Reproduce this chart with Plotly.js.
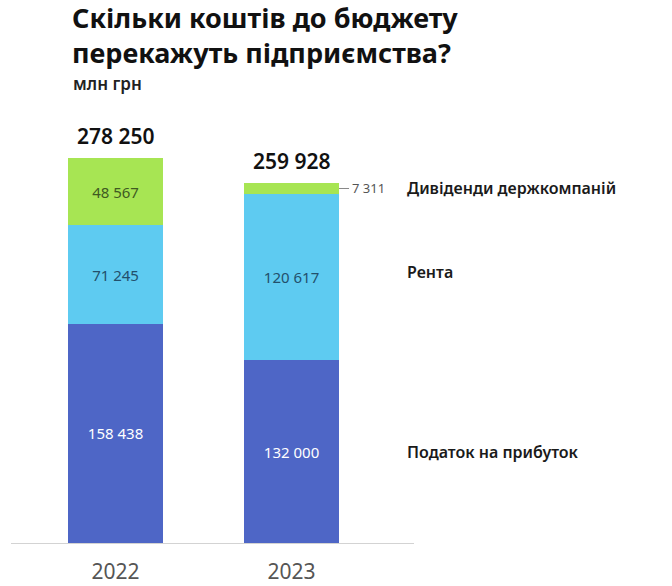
<!DOCTYPE html>
<html>
<head>
<meta charset="utf-8">
<script src="https://cdn.plot.ly/plotly-3.0.1.min.js"></script>
<style>html,body{margin:0;padding:0;background:#fff;}#chart{width:672px;height:586px;}</style>
</head>
<body>
<div id="chart"></div>
<script>
// ---- data ----
const years = ['2022', '2023'];
const profitTax = [158438, 132000];
const rent = [71245, 120617];
const dividends = [48567, 7311];
const totals = [278250, 259928];
const seriesNames = ['Податок на прибуток', 'Рента', 'Дивіденди держкомпаній'];
const titleLines = ['Скільки коштів до бюджету', 'перекажуть підприємства?'];
const unitLabel = 'млн грн';

// ---- helpers ----
const fmt = v => String(v).replace(/\B(?=(\d{3})+(?!\d))/g, ' ');
const FONT = '"Noto Sans", "Open Sans", sans-serif';
const L = 11, R = 414, T = 128, B = 543, W = 672, H = 586;
const px = x => (x - L) / (R - L);
const py = y => (B - y) / (B - T);
const BW = 0.54;
const MININ = 20000;

const colors = ['#4e66c6', '#5ecbf1', '#a7e553'];
const textColors = ['#ffffff', '#23506c', '#405a22'];
const series = [profitTax, rent, dividends];

const traces = series.map((vals, k) => ({
  type: 'bar',
  x: years,
  y: vals,
  name: seriesNames[k],
  width: BW,
  marker: {color: colors[k], line: {width: 0}},
  text: vals.map(v => v >= MININ ? fmt(v) : ''),
  textposition: 'inside',
  insidetextanchor: 'middle',
  textangle: 0,
  constraintext: 'none',
  textfont: {family: FONT, size: 15, color: textColors[k]},
  hoverinfo: 'skip',
  showlegend: false
}));

const annotations = [];
const shapes = [];

// totals above bars
years.forEach((yr, i) => {
  annotations.push({
    x: i, y: totals[i], xref: 'x', yref: 'y',
    text: fmt(totals[i]), showarrow: false,
    xanchor: 'center', yanchor: 'bottom', yshift: 6,
    font: {family: FONT, size: 21, color: '#111', weight: 600}
  });
});

// small segment labels outside with leader line
years.forEach((yr, i) => {
  series.forEach((vals, k) => {
    if (vals[i] < MININ) {
      let base = 0;
      for (let j = 0; j < k; j++) base += series[j][i];
      const yc = base + vals[i] / 2;
      shapes.push({
        type: 'line', xref: 'x', yref: 'y',
        x0: i + BW / 2, x1: i + BW / 2 + 0.057, y0: yc, y1: yc,
        line: {color: '#888', width: 1}
      });
      annotations.push({
        x: i + BW / 2 + 0.065, y: yc, xref: 'x', yref: 'y',
        text: fmt(vals[i]), showarrow: false,
        xanchor: 'left', yanchor: 'middle',
        font: {family: FONT, size: 13, color: '#555'}
      });
    }
  });
});

// series labels at the right of the last bar
const last = years.length - 1;
let acc = 0;
series.forEach((vals, k) => {
  const yc = acc + vals[last] / 2;
  acc += vals[last];
  annotations.push({
    x: 1.645, y: yc, xref: 'x', yref: 'y',
    text: seriesNames[k], showarrow: false,
    xanchor: 'left', yanchor: 'middle', yshift: k === 1 ? 5 : 0,
    font: {family: FONT, size: 16, color: '#1a1a1a', weight: 600}
  });
});

// title (one wrapped text) + unit
annotations.push({
  x: px(70), y: py(35.5), xref: 'paper', yref: 'paper',
  text: titleLines.join('<br>'), showarrow: false, xanchor: 'left', yanchor: 'middle', align: 'left',
  font: {family: FONT, size: 27, color: '#111', weight: 700}
});
annotations.push({
  x: px(71), y: py(83), xref: 'paper', yref: 'paper',
  text: unitLabel, showarrow: false, xanchor: 'left', yanchor: 'middle',
  font: {family: FONT, size: 17, color: '#222', weight: 600}
});

const layout = {
  width: W, height: H,
  margin: {l: L, r: W - R, t: T, b: H - B, pad: 0},
  paper_bgcolor: '#fff', plot_bgcolor: '#fff',
  barmode: 'stack',
  bargap: 0.46,
  xaxis: {
    type: 'category', range: [-0.594, 1.696],
    showline: true, linecolor: '#d3d3d3', linewidth: 1,
    ticks: '', showgrid: false, zeroline: false,
    tickfont: {family: FONT, size: 21, color: '#555'},
    ticklabelstandoff: 10,
    fixedrange: true
  },
  yaxis: {
    range: [0, 300000], visible: false, showgrid: false, zeroline: false, fixedrange: true
  },
  annotations: annotations,
  shapes: shapes,
  showlegend: false
};

Plotly.newPlot('chart', traces, layout, {displayModeBar: false, staticPlot: true});
</script>
</body>
</html>
